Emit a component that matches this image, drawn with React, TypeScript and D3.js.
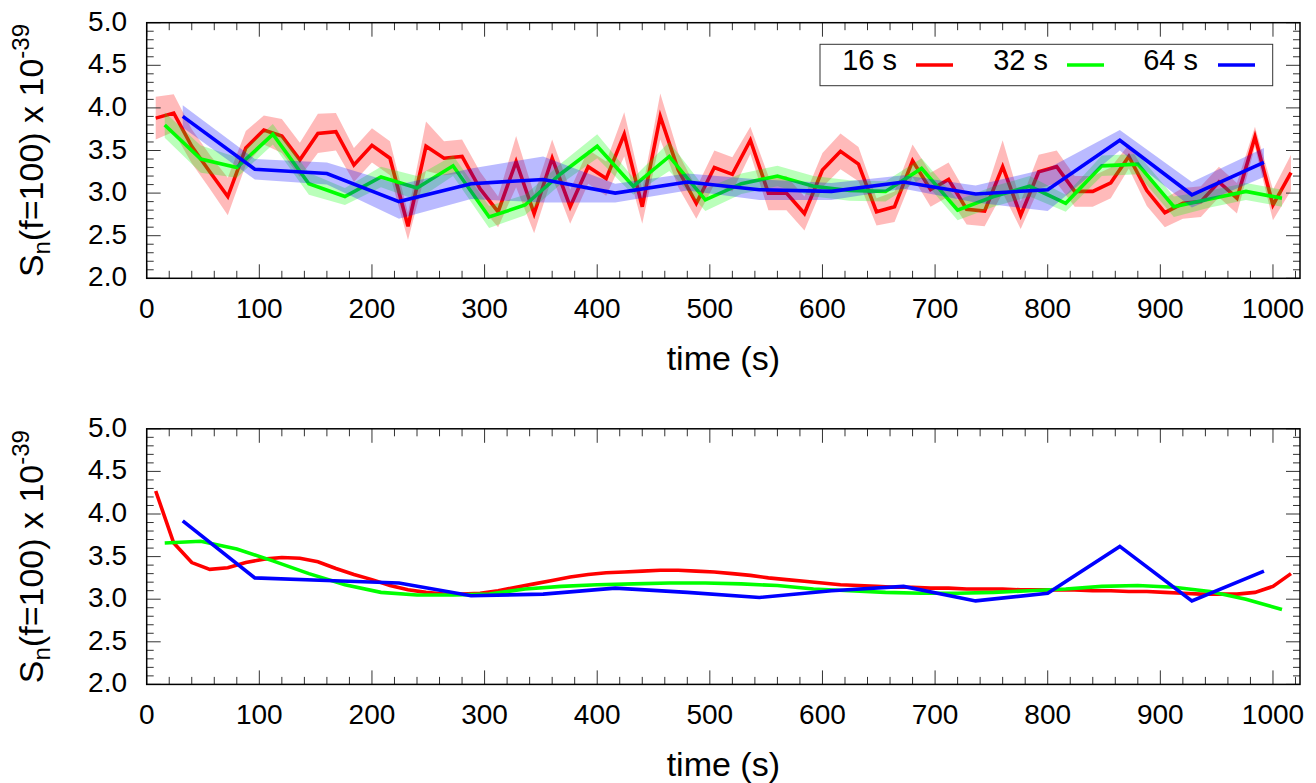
import React from "react";
import * as d3 from "d3";

// ---------- data ----------
const tRed = d3.range(8, 1017, 16); // 16 s windows (centres)
const tGreen = d3.range(16, 1009, 32); // 32 s windows
const tBlue = d3.range(32, 993, 64); // 64 s windows

const redTop = [3.88,3.94,3.55,3.25,2.96,3.53,3.74,3.67,3.39,3.70,3.72,3.33,3.56,3.41,2.61,3.55,3.41,3.43,3.05,2.78,3.37,2.76,3.41,2.84,3.31,3.17,3.69,2.84,3.90,3.27,2.88,3.30,3.22,3.62,3.00,3.00,2.76,3.27,3.49,3.34,2.78,2.84,3.38,3.04,3.16,2.81,2.79,3.31,2.74,3.25,3.31,3.02,3.02,3.12,3.43,3.03,2.77,2.88,2.90,3.13,2.94,3.66,2.86,3.24];
const redErr = [0.25,0.22,0.2,0.2,0.22,0.2,0.17,0.2,0.2,0.23,0.22,0.2,0.2,0.2,0.16,0.29,0.2,0.2,0.2,0.18,0.3,0.23,0.22,0.2,0.2,0.2,0.26,0.2,0.27,0.2,0.18,0.2,0.2,0.16,0.2,0.2,0.2,0.2,0.21,0.2,0.16,0.18,0.19,0.2,0.2,0.18,0.18,0.31,0.16,0.2,0.19,0.18,0.18,0.18,0.14,0.18,0.17,0.18,0.18,0.18,0.18,0.12,0.18,0.21];

const greenTop = [3.80,3.40,3.30,3.69,3.11,2.96,3.19,3.06,3.32,2.72,2.86,3.23,3.55,3.08,3.43,2.92,3.11,3.20,3.08,3.03,3.02,3.29,2.80,2.96,3.08,2.88,3.32,3.34,2.84,2.93,3.02,2.94];
const greenErr = [0.15,0.16,0.12,0.12,0.13,0.1,0.12,0.14,0.12,0.13,0.12,0.12,0.14,0.1,0.17,0.13,0.12,0.12,0.12,0.12,0.12,0.12,0.12,0.12,0.12,0.1,0.12,0.12,0.12,0.1,0.1,0.1];

const blueTop = [3.90,3.28,3.23,2.90,3.11,3.16,3.00,3.13,3.04,3.02,3.13,2.99,3.04,3.62,2.98,3.36];
const blueErr = [0.13,0.12,0.13,0.2,0.18,0.27,0.11,0.1,0.12,0.1,0.08,0.1,0.25,0.12,0.15,0.17];

const redSmooth = [4.27,3.66,3.43,3.35,3.37,3.43,3.47,3.49,3.48,3.44,3.36,3.29,3.23,3.16,3.11,3.08,3.06,3.06,3.07,3.10,3.14,3.18,3.22,3.26,3.29,3.31,3.32,3.33,3.34,3.34,3.33,3.32,3.30,3.28,3.25,3.23,3.21,3.19,3.17,3.16,3.15,3.14,3.14,3.13,3.13,3.12,3.12,3.12,3.11,3.11,3.11,3.11,3.10,3.10,3.09,3.09,3.08,3.07,3.06,3.06,3.06,3.08,3.15,3.30];
const greenSmooth = [3.66,3.68,3.59,3.45,3.30,3.17,3.08,3.05,3.05,3.06,3.12,3.15,3.17,3.18,3.19,3.19,3.18,3.16,3.12,3.10,3.08,3.07,3.07,3.08,3.10,3.12,3.15,3.16,3.14,3.09,3.00,2.88];
const blueSmooth = [3.92,3.25,3.22,3.19,3.04,3.06,3.13,3.08,3.02,3.10,3.15,2.98,3.07,3.62,2.98,3.33];

const xMajor = d3.range(0, 1001, 100);
const xMinor = d3.range(0, 1021, 20);
const yMajor = [2.0, 2.5, 3.0, 3.5, 4.0, 4.5, 5.0];
const yMinor = d3.range(20, 51, 1).map((v) => v / 10);
const legendItems = ["16 s", "32 s", "64 s"];

// ---------- layout ----------
const W = 1316;
const H = 783;
const X0 = 146.7;
const X1 = 1300;
const PH = 255.6;
const panelTops = [22.7, 428.8];
const FONT = "'Liberation Sans', Arial, Helvetica, sans-serif";
const RED = "#ff0000";
const GREEN = "#00ff00";
const BLUE = "#0000ff";
const LW = 3.6;

const x = d3.scaleLinear().domain([0, 1024]).range([X0, X1]);

type Pt = { t: number; v: number; e?: number };
const mk = (ts: number[], vs: number[], es?: number[]): Pt[] =>
  ts.map((t, i) => ({ t, v: vs[i], e: es ? es[i] : 0 }));

function Axes({ y, top }: { y: d3.ScaleLinear<number, number>; top: number }) {
  const bottom = top + PH;
  const els: React.ReactNode[] = [];
  xMinor.forEach((t, i) => {
    const major = t % 100 === 0;
    const len = major ? 14 : 7.5;
    const xx = x(t);
    els.push(<line key={"xb" + i} x1={xx} x2={xx} y1={bottom} y2={bottom - len} stroke="#333" strokeWidth={1} />);
    els.push(<line key={"xt" + i} x1={xx} x2={xx} y1={top} y2={top + len} stroke="#333" strokeWidth={1} />);
  });
  yMinor.forEach((v, i) => {
    const major = Math.abs(v * 2 - Math.round(v * 2)) < 1e-6;
    const len = major ? 14 : 7;
    const yy = y(v);
    els.push(<line key={"yl" + i} x1={X0} x2={X0 + len} y1={yy} y2={yy} stroke="#333" strokeWidth={1} />);
    els.push(<line key={"yr" + i} x1={X1} x2={X1 - len} y1={yy} y2={yy} stroke="#333" strokeWidth={1} />);
  });
  xMajor.forEach((t, i) => {
    els.push(
      <text key={"xl" + i} x={x(t)} y={bottom + 40} textAnchor="middle" fontSize={28} fontFamily={FONT}>
        {t}
      </text>
    );
  });
  yMajor.forEach((v, i) => {
    els.push(
      <text key={"ylab" + i} x={127} y={y(v) + 8} textAnchor="end" fontSize={28} fontFamily={FONT}>
        {v.toFixed(1)}
      </text>
    );
  });
  els.push(<rect key="frame" x={X0} y={top} width={X1 - X0} height={PH} fill="none" stroke="#000" strokeWidth={1.5} />);
  els.push(
    <text key="xt" x={(X0 + X1) / 2} y={bottom + 92} textAnchor="middle" fontSize={34} fontFamily={FONT}>
      time (s)
    </text>
  );
  els.push(
    <text key="ytitle" transform={`translate(43,${top + PH / 2}) rotate(-90)`} textAnchor="middle" fontSize={34} fontFamily={FONT}>
      S<tspan fontSize={24} dy={7}>n</tspan>
      <tspan dy={-7}>(f=100) x 10</tspan>
      <tspan fontSize={24} dy={-14}>-39</tspan>
    </text>
  );
  return <g>{els}</g>;
}

export default function App() {
  const yTop = d3.scaleLinear().domain([2, 5]).range([panelTops[0] + PH, panelTops[0]]);
  const yBot = d3.scaleLinear().domain([2, 5]).range([panelTops[1] + PH, panelTops[1]]);

  const lineTop = d3.line<Pt>().x((d) => x(d.t)).y((d) => yTop(d.v));
  const areaTop = d3
    .area<Pt>()
    .x((d) => x(d.t))
    .y0((d) => yTop(d.v - (d.e || 0)))
    .y1((d) => yTop(d.v + (d.e || 0)));
  const lineBot = d3.line<Pt>().x((d) => x(d.t)).y((d) => yBot(d.v));

  const topSeries = [
    { data: mk(tRed, redTop, redErr), color: RED, op: 0.27 },
    { data: mk(tGreen, greenTop, greenErr), color: GREEN, op: 0.27 },
    { data: mk(tBlue, blueTop, blueErr), color: BLUE, op: 0.27 },
  ];
  const botSeries = [
    { data: mk(tRed, redSmooth), color: RED },
    { data: mk(tGreen, greenSmooth), color: GREEN },
    { data: mk(tBlue, blueSmooth), color: BLUE },
  ];

  const legendText = [897, 1048, 1198];
  const legendLine = [916, 1067, 1218];
  const legendColors = [RED, GREEN, BLUE];

  return (
    <div style={{ position: "absolute", left: 0, top: 0 }}>
      <svg width={W} height={H} style={{ display: "block", background: "#fff" }}>
        {/* top panel */}
        {topSeries.map((s, i) => (
          <g key={"ts" + i}>
            <path d={areaTop(s.data) || ""} fill={s.color} fillOpacity={s.op} stroke="none" />
            <path d={lineTop(s.data) || ""} fill="none" stroke={s.color} strokeWidth={LW} strokeLinejoin="miter" />
          </g>
        ))}
        <Axes y={yTop} top={panelTops[0]} />
        {/* legend */}
        <rect x={820} y={44.3} width={452.7} height={41.4} fill="#fff" stroke="#333" strokeWidth={1} />
        {legendItems.map((lab, i) => (
          <g key={"lg" + i}>
            <text x={legendText[i]} y={70} textAnchor="end" fontSize={29} fontFamily={FONT}>
              {lab}
            </text>
            <line x1={legendLine[i]} x2={legendLine[i] + 37} y1={65} y2={65} stroke={legendColors[i]} strokeWidth={LW} />
          </g>
        ))}

        {/* bottom panel */}
        {botSeries.map((s, i) => (
          <path key={"bs" + i} d={lineBot(s.data) || ""} fill="none" stroke={s.color} strokeWidth={LW} />
        ))}
        <Axes y={yBot} top={panelTops[1]} />
      </svg>
    </div>
  );
}
